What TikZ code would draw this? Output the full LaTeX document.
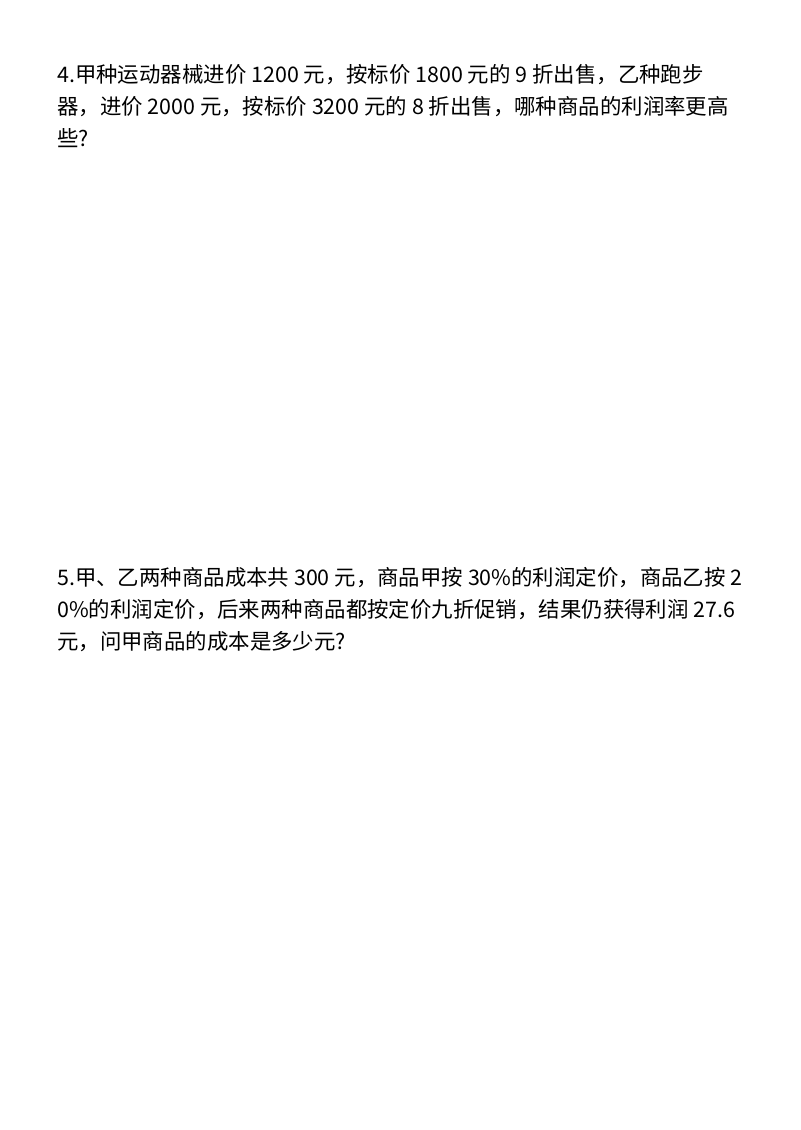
\documentclass[tikz,border=0pt]{standalone}
\usepackage{fontspec}
\setmainfont{Noto Sans CJK SC}
\begin{document}
\begin{tikzpicture}[x=0.02625cm,y=-0.02625cm,
  line/.style={anchor=base west,inner sep=0pt,font=\fontsize{16}{20}\selectfont}]
\useasboundingbox (0,0) rectangle (800,1130);
% question 4
\node[line] (q4a) at (57,82) {4.甲种运动器械进价 1200 元，按标价 1800 元的 9 折出售，乙种跑步};
\node[line] (q4b) at (57,114) {器，进价 2000 元，按标价 3200 元的 8 折出售，哪种商品的利润率更高};
\node[line] (q4c) at (57,146) {些?};
% question 5
\node[line] (q5a) at (57,585) {5.甲、乙两种商品成本共 300 元，商品甲按 30\%的利润定价，商品乙按 2};
\node[line] (q5b) at (57,617) {0\%的利润定价，后来两种商品都按定价九折促销，结果仍获得利润 27.6};
\node[line] (q5c) at (57,649) {元，问甲商品的成本是多少元?};
\end{tikzpicture}
\end{document}
